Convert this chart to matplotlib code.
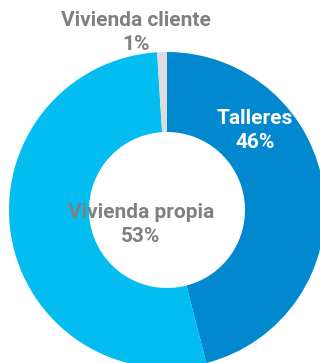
import matplotlib.pyplot as plt

plt.rcParams['font.family'] = ['Roboto', 'DejaVu Sans']

labels = ['Talleres', 'Vivienda propia', 'Vivienda cliente']
values = [46, 53, 1]
colors = ['#0288cf', '#03bdf1', '#dcdcdc']

W, H = 320, 363
fig = plt.figure(figsize=(W / 100, H / 100), dpi=100)
ax = fig.add_axes([0, 0, 1, 1])

# donut drawn in pixel units: centre (167, 210 from top), outer r 158, inner r 78
ax.pie(values, colors=colors, startangle=90, counterclock=False,
       center=(167, H - 210), radius=158, frame=True,
       wedgeprops=dict(width=80, edgecolor='none'))
ax.set_xlim(0, W)
ax.set_ylim(0, H)
ax.set_aspect('equal')
ax.axis('off')

txt = dict(ha='center', va='center', fontsize=15, fontweight='bold')
ax.text(136, H - 20, labels[2], color='#808080', **txt)
ax.text(136, H - 45, f'{values[2]}%', color='#808080', **txt)
ax.text(255, H - 118, labels[0], color='white', **txt)
ax.text(255, H - 143, f'{values[0]}%', color='white', **txt)
ax.text(141, H - 212, labels[1], color='#808080', **txt)
ax.text(141, H - 237, f'{values[1]}%', color='#808080', **txt)

fig.savefig('out.png', dpi=100)
